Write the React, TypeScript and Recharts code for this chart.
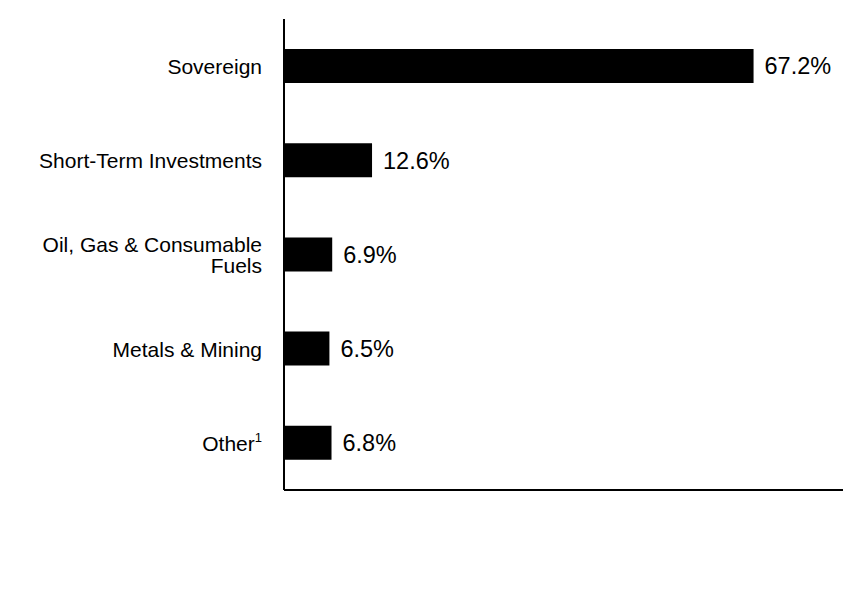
import React from "react";
import { BarChart, Bar, XAxis, YAxis, LabelList } from "recharts";

const categories = ["Sovereign", "Short-Term Investments", "Oil, Gas & Consumable\nFuels", "Metals & Mining", "Other¹"];
const values = [67.2, 12.6, 6.9, 6.5, 6.8];
const xDomain = [0, 80];

const data = categories.map((c, i) => ({ name: c, value: values[i] }));

const FONT = "'Liberation Sans', Arial, sans-serif";

const CategoryTick = (props: any) => {
  const { x, y, payload } = props;
  const raw: string = payload.value;
  const lines = raw.split("\n");
  const lh = 21;
  const startDy = -((lines.length - 1) * lh) / 2;
  const tx = x - 14;
  return (
    <text x={tx} y={y} textAnchor="end" fontFamily={FONT} fontSize={21} fill="#000" dominantBaseline="central">
      {lines.map((ln, i) => {
        const sup = ln.endsWith("¹");
        const base = sup ? ln.slice(0, -1) : ln;
        return (
          <tspan key={i} x={tx} dy={i === 0 ? startDy : lh}>
            {base}
            {sup ? (
              <tspan fontSize={13} dy={-6}>1</tspan>
            ) : null}
          </tspan>
        );
      })}
    </text>
  );
};

export default function App() {
  return (
    <div style={{ width: 856, height: 592 }}>
      <BarChart
        width={850}
        height={590}
        layout="vertical"
        data={data}
        margin={{ top: 11, right: 15, bottom: 107, left: 0 }}
      >
        <XAxis
          type="number"
          domain={xDomain}
          tick={false}
          tickLine={false}
          axisLine={{ stroke: "#000", strokeWidth: 2 }}
          height={1}
        />
        <YAxis
          type="category"
          dataKey="name"
          width={276}
          tickLine={false}
          axisLine={{ stroke: "#000", strokeWidth: 2 }}
          tick={<CategoryTick />}
          interval={0}
        />
        <Bar dataKey="value" fill="#000" barSize={34} isAnimationActive={false}>
          <LabelList
            dataKey="value"
            position="right"
            offset={11}
            formatter={(v: any) => `${Number(v).toFixed(1)}%`}
            style={{ fontFamily: FONT, fontSize: 23.5, fill: "#000" }}
          />
        </Bar>
      </BarChart>
    </div>
  );
}
